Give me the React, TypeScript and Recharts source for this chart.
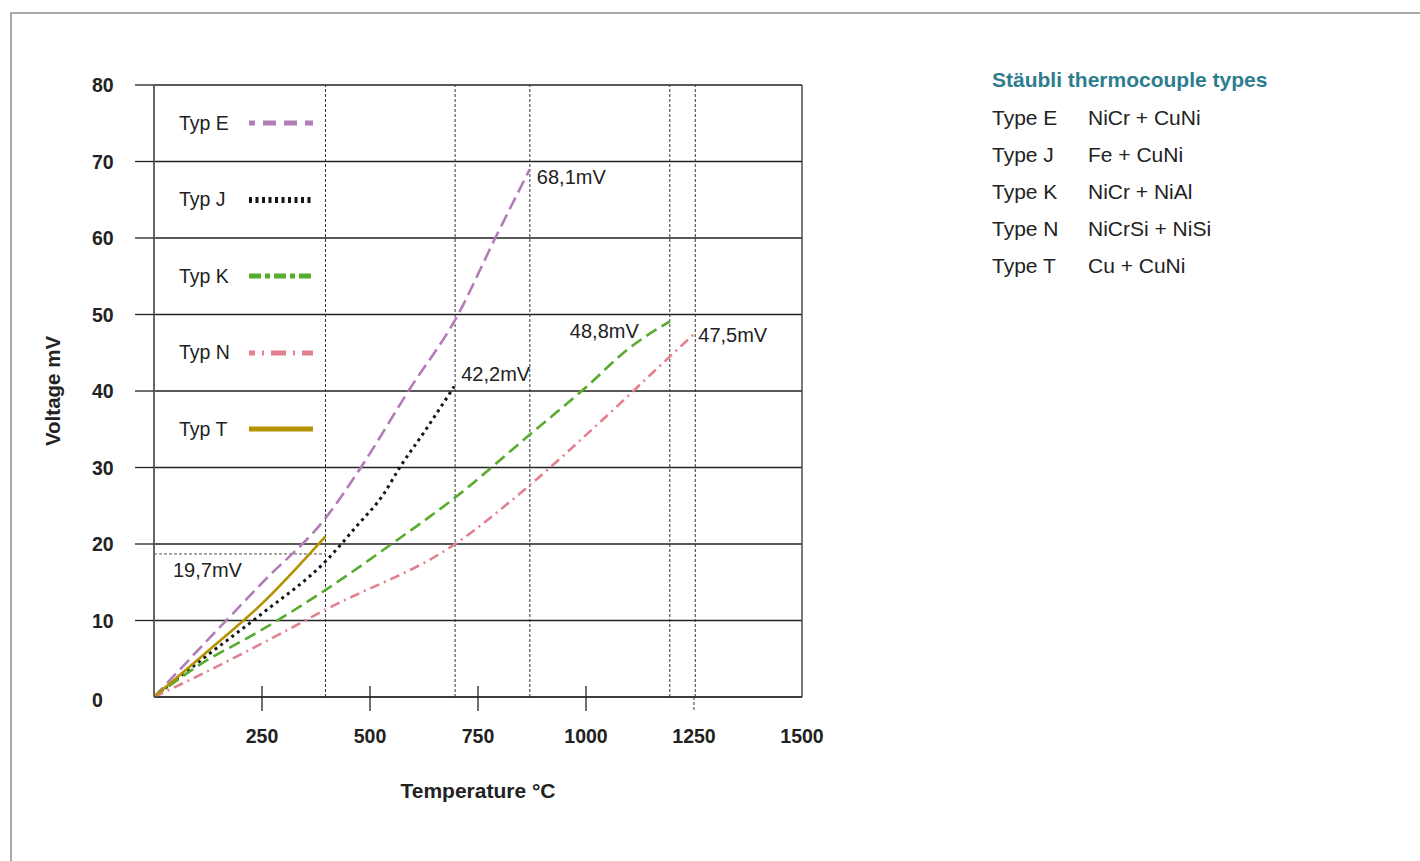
import { LineChart, Line, XAxis, YAxis, CartesianGrid, ReferenceLine, Legend, LabelList } from 'recharts';

const X_TICKS = [250, 500, 750, 1000, 1250, 1500];
const Y_TICKS = [0, 10, 20, 30, 40, 50, 60, 70, 80];

// [°C, mV]
const TYPE_E = [[0, 0], [250, 14.9], [400, 23.6], [480, 30.1], [590, 40.1], [700, 49.6], [790, 60], [870, 69]];
const TYPE_J = [[0, 0], [120, 5.3], [250, 10.9], [400, 17.9], [470, 22.4], [530, 26.4], [570, 30.1], [625, 34.6], [695, 40.6]];
const TYPE_K = [[0, 0], [100, 4.0], [250, 8.8], [400, 14.1], [550, 20], [700, 26.2], [870, 34.3], [1000, 40.5], [1100, 45.6], [1194, 49.1]];
const TYPE_N = [[0, 0], [100, 2.7], [250, 7], [400, 11.5], [697, 20], [870, 27.7], [1030, 35.8], [1194, 44.5], [1253, 47.6]];
const TYPE_T = [[0, 0], [125, 6.0], [250, 12.2], [397, 21]];

const END_LABELS = ['68,1mV', '42,2mV', '48,8mV', '47,5mV', ''];
const MARKER_TEMPS = [397, 697, 870, 1194, 1253];
const T_MARK_MV = 18.7;
const T_MARK_LABEL = '19,7mV';

const MATERIALS = [
  ['Type E', 'NiCr + CuNi'],
  ['Type J', 'Fe + CuNi'],
  ['Type K', 'NiCr + NiAl'],
  ['Type N', 'NiCrSi + NiSi'],
  ['Type T', 'Cu + CuNi'],
];

const toRows = (pts: number[][]) => pts.map(([t, mv]) => ({ t, mv }));

const SERIES = [
  { name: 'Typ E', data: toRows(TYPE_E), label: END_LABELS[0], color: '#B27DB7', width: 2.6, dash: '13 6', legendDash: '13 8', legendOffset: 7, legendWidth: 5, lbl: { dx: 7, dy: 8, anchor: 'start' } },
  { name: 'Typ J', data: toRows(TYPE_J), label: END_LABELS[1], color: '#151515', width: 3, dash: '3 4', legendDash: '3 3.5', legendOffset: 0, legendWidth: 6, lbl: { dx: 7, dy: -12, anchor: 'start' } },
  { name: 'Typ K', data: toRows(TYPE_K), label: END_LABELS[2], color: '#57AC2D', width: 2.6, dash: '12 6', legendDash: '12 4 5 4', legendOffset: 0, legendWidth: 5, lbl: { dx: -31, dy: 10, anchor: 'end' } },
  { name: 'Typ N', data: toRows(TYPE_N), label: END_LABELS[3], color: '#E3808F', width: 2.6, dash: '10 5 2 5', legendDash: '15 7 2 7', legendOffset: 9, legendWidth: 5, lbl: { dx: 3, dy: 2, anchor: 'start' } },
  { name: 'Typ T', data: toRows(TYPE_T), label: END_LABELS[4], color: '#B59300', width: 2.6, dash: undefined, legendDash: undefined, legendOffset: 0, legendWidth: 5, lbl: { dx: 0, dy: 0, anchor: 'start' } },
];

const FONT = "'Liberation Sans', Arial, Helvetica, sans-serif";
const INK = '#222';

function XTick({ x, y, payload }: any) {
  const v = payload.value;
  return (
    <g>
      {v < 1250 && <line x1={x} x2={x} y1={y - 11} y2={y + 14} stroke={INK} strokeWidth={1.3} />}
      {v === 1250 && <line x1={x} x2={x} y1={y} y2={y + 14} stroke="#333" strokeDasharray="3 2" />}
      <text x={x} y={y + 39} textAnchor="middle" dominantBaseline="central" fontSize={19.5} fontWeight="bold" fill={INK}>
        {v}
      </text>
    </g>
  );
}

function YTick({ x, y, payload }: any) {
  const v = payload.value;
  return (
    <g>
      {v > 0 && <line x1={x - 19} x2={x} y1={y} y2={y} stroke={INK} strokeWidth={1.3} />}
      <text x={x - 62} y={y + (v === 0 ? 3 : 0)} dominantBaseline="central" fontSize={19.5} fontWeight="bold" fill={INK}>
        {v}
      </text>
    </g>
  );
}

function renderLegend() {
  return (
    <div style={{ fontFamily: FONT }}>
      {SERIES.map((s) => (
        <div key={s.name} style={{ height: 76.5, display: 'flex', alignItems: 'center' }}>
          <span style={{ width: 70, fontSize: 19.5, color: INK }}>{s.name}</span>
          <svg width={64} height={10}>
            <line x1={0} x2={64} y1={5} y2={5} stroke={s.color} strokeWidth={s.legendWidth}
              strokeDasharray={s.legendDash} strokeDashoffset={s.legendOffset} />
          </svg>
        </div>
      ))}
    </div>
  );
}

export default function App() {
  return (
    <div style={{ position: 'absolute', left: 0, top: 0, width: 1420, height: 861, background: '#fff', fontFamily: FONT }}>
      <div style={{ position: 'absolute', left: 10, top: 12, width: 1410, height: 849, borderTop: '2px solid #A8A8A8', borderLeft: '2px solid #A8A8A8', boxSizing: 'border-box' }} />

      <div style={{ position: 'absolute', left: 0, top: 0 }}>
        <LineChart width={900} height={861} margin={{ top: 85, right: 98, left: 34, bottom: 64 }}>
          <CartesianGrid vertical={false} stroke={INK} strokeWidth={1.3} />
          <XAxis
            type="number"
            dataKey="t"
            domain={[0, 1500]}
            ticks={X_TICKS}
            interval={0}
            height={100}
            tickSize={0}
            tickMargin={0}
            tickLine={false}
            tick={<XTick />}
            axisLine={{ stroke: '#333', strokeWidth: 1.5 }}
            label={{ value: 'Temperature °C', position: 'insideTop', offset: 86, style: { fontSize: 21, fontWeight: 'bold', fill: INK } }}
          />
          <YAxis
            type="number"
            domain={[0, 80]}
            ticks={Y_TICKS}
            interval={0}
            width={120}
            tickSize={0}
            tickMargin={0}
            tickLine={false}
            tick={<YTick />}
            axisLine={{ stroke: '#666', strokeWidth: 2 }}
            label={{ value: 'Voltage mV', angle: -90, position: 'insideLeft', offset: 19, style: { fontSize: 20.5, fontWeight: 'bold', fill: INK, textAnchor: 'middle' } }}
          />
          <ReferenceLine x={1500} stroke="#333" strokeWidth={1.3} />
          {MARKER_TEMPS.map((t) => (
            <ReferenceLine key={t} x={t} stroke="#333" strokeWidth={1} strokeDasharray="3 2" />
          ))}
          <ReferenceLine
            segment={[{ x: 0, y: T_MARK_MV }, { x: 397, y: T_MARK_MV }]}
            stroke="#555"
            strokeDasharray="3 2"
            label={{ value: T_MARK_LABEL, position: 'insideBottomLeft', content: (p: any) => (
              <text x={p.viewBox.x + 19} y={p.viewBox.y + 16} dominantBaseline="central" fontSize={20} fill={INK}>{T_MARK_LABEL}</text>
            ) }}
          />
          <Legend layout="vertical" align="center" verticalAlign="middle" content={renderLegend}
            wrapperStyle={{ position: 'absolute', left: 179, top: 85, width: 150, height: 383 }} />
          {SERIES.map((s) => (
            <Line
              key={s.name}
              data={s.data}
              dataKey="mv"
              name={s.name}
              type="monotone"
              stroke={s.color}
              strokeWidth={s.width}
              strokeDasharray={s.dash}
              dot={false}
              activeDot={false}
              isAnimationActive={false}
            >
              <LabelList
                dataKey="mv"
                content={(p: any) => {
                  if (!s.label || p.index !== s.data.length - 1) return null;
                  const px = p.viewBox?.x ?? p.x;
                  const py = p.viewBox?.y ?? p.y;
                  return (
                    <text x={px + s.lbl.dx} y={py + s.lbl.dy} textAnchor={s.lbl.anchor} dominantBaseline="central" fontSize={20} fill={INK}>
                      {s.label}
                    </text>
                  );
                }}
              />
            </Line>
          ))}
        </LineChart>
      </div>

      <div style={{ position: 'absolute', left: 992, top: 68, color: INK }}>
        <div style={{ fontSize: 21, fontWeight: 'bold', color: '#2E7D8E', lineHeight: '24px', height: 24 }}>
          Stäubli thermocouple types
        </div>
        <div style={{ marginTop: 6.5 }}>
          {MATERIALS.map(([type, mat]) => (
            <div key={type} style={{ display: 'flex', height: 37, lineHeight: '37px', fontSize: 21 }}>
              <span style={{ width: 96 }}>{type}</span>
              <span>{mat}</span>
            </div>
          ))}
        </div>
      </div>
    </div>
  );
}
